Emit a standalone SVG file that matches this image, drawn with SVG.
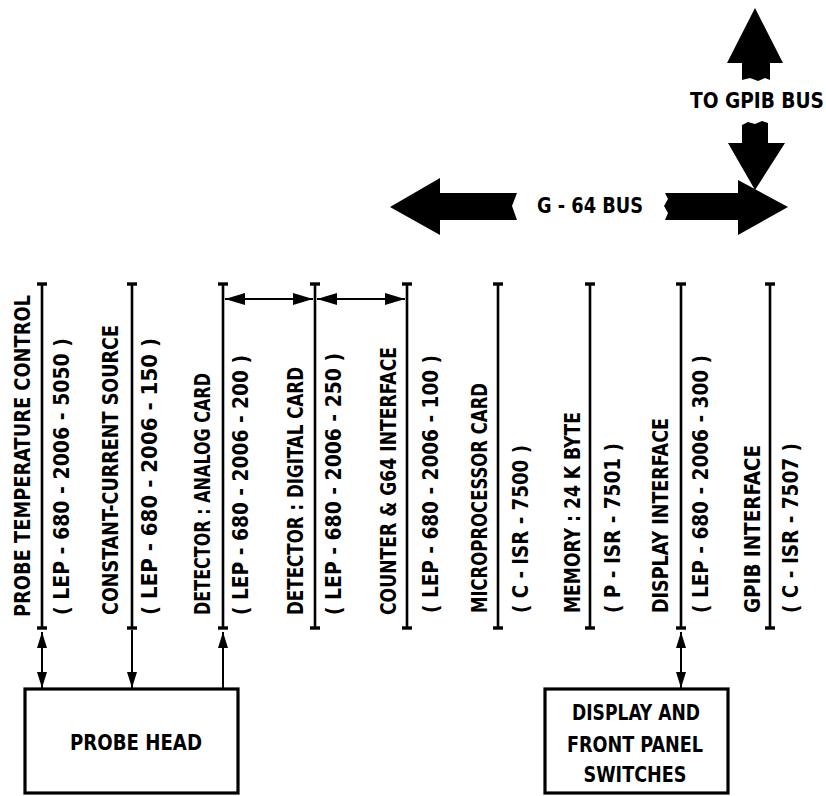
<svg xmlns="http://www.w3.org/2000/svg" width="826" height="796" viewBox="0 0 826 796">
  <style>
    .lbl { font-family: "DejaVu Sans Condensed", "DejaVu Sans", "Liberation Sans", sans-serif; font-weight: bold; font-size: 20.5px; fill: #000; }
    .bar { stroke: #000; stroke-width: 2.6; fill: none; }
    .tick { stroke: #000; stroke-width: 3.4; fill: none; }
    .con { stroke: #000; stroke-width: 2; fill: none; }
    .box { stroke: #000; stroke-width: 3.2; fill: #fff; }
    .bus { fill: #000; stroke: none; }
  </style>
  <defs>
    <marker id="tri" viewBox="0 0 16 10" refX="16" refY="5" markerWidth="16" markerHeight="10" markerUnits="userSpaceOnUse" orient="auto-start-reverse">
      <path d="M0,0 L16,5 L0,10 z" fill="#000"/>
    </marker>
    <marker id="tri-lg" viewBox="0 0 20 12" refX="20" refY="6" markerWidth="20" markerHeight="12" markerUnits="userSpaceOnUse" orient="auto-start-reverse">
      <path d="M0,0 L20,6 L0,12 z" fill="#000"/>
    </marker>
  </defs>
  <rect width="826" height="796" fill="#fff"/>

  <!-- system buses -->
  <g id="bus-gpib">
    <polygon class="bus" points="755,8 783,63 770,63 770,80 765,78 758,81 750,78 742,80 742,63 727,63"/>
    <polygon class="bus" points="742,125 748,122 755,124 762,121 768,123 768,143 785,143 755,190 728,143 742,143"/>
    <text class="lbl" x="690" y="108" textLength="134" lengthAdjust="spacingAndGlyphs">TO GPIB  BUS</text>
  </g>
  <g id="bus-g64">
    <polygon class="bus" points="390,207 440,178 440,193 517,193 512,206 517,220 440,220 440,235"/>
    <polygon class="bus" points="665,193 738,193 738,180 788,207 738,235 738,220 665,220 668,213 664,206 668,199"/>
    <text class="lbl" x="537" y="213" textLength="106" lengthAdjust="spacingAndGlyphs">G - 64 BUS</text>
  </g>

  <!-- cards on the bus: bar, name and part number -->
  <g id="card-probe-temp">
    <line class="bar" x1="42" y1="284" x2="42" y2="628"/>
    <line class="tick" x1="37" y1="284" x2="47" y2="284"/><line class="tick" x1="37" y1="628" x2="47" y2="628"/>
    <text class="lbl" transform="translate(30,617) rotate(-90)" textLength="322" lengthAdjust="spacingAndGlyphs">PROBE TEMPERATURE CONTROL</text>
    <text class="lbl" transform="translate(69,615) rotate(-90)" textLength="277" lengthAdjust="spacingAndGlyphs">( LEP - 680 - 2006 - 5050 )</text>
  </g>
  <g id="card-current-source">
    <line class="bar" x1="132" y1="284" x2="132" y2="628"/>
    <line class="tick" x1="127" y1="284" x2="137" y2="284"/><line class="tick" x1="127" y1="628" x2="137" y2="628"/>
    <text class="lbl" transform="translate(118,615) rotate(-90)" textLength="290" lengthAdjust="spacingAndGlyphs">CONSTANT-CURRENT SOURCE</text>
    <text class="lbl" transform="translate(157,615) rotate(-90)" textLength="277" lengthAdjust="spacingAndGlyphs">( LEP - 680 - 2006 - 150 )</text>
  </g>
  <g id="card-analog">
    <line class="bar" x1="223" y1="284" x2="223" y2="628"/>
    <line class="tick" x1="218" y1="284" x2="228" y2="284"/><line class="tick" x1="218" y1="628" x2="228" y2="628"/>
    <text class="lbl" transform="translate(210,615) rotate(-90)" textLength="242" lengthAdjust="spacingAndGlyphs">DETECTOR : ANALOG CARD</text>
    <text class="lbl" transform="translate(248,615) rotate(-90)" textLength="260" lengthAdjust="spacingAndGlyphs">( LEP - 680 - 2006 - 200 )</text>
  </g>
  <g id="card-digital">
    <line class="bar" x1="315" y1="284" x2="315" y2="628"/>
    <line class="tick" x1="310" y1="284" x2="320" y2="284"/><line class="tick" x1="310" y1="628" x2="320" y2="628"/>
    <text class="lbl" transform="translate(303,615) rotate(-90)" textLength="248" lengthAdjust="spacingAndGlyphs">DETECTOR : DIGITAL CARD</text>
    <text class="lbl" transform="translate(341,615) rotate(-90)" textLength="262" lengthAdjust="spacingAndGlyphs">( LEP - 680 - 2006 - 250 )</text>
  </g>
  <g id="card-counter">
    <line class="bar" x1="407" y1="284" x2="407" y2="628"/>
    <line class="tick" x1="402" y1="284" x2="412" y2="284"/><line class="tick" x1="402" y1="628" x2="412" y2="628"/>
    <text class="lbl" transform="translate(396,615) rotate(-90)" textLength="268" lengthAdjust="spacingAndGlyphs">COUNTER &amp; G64 INTERFACE</text>
    <text class="lbl" transform="translate(438,613) rotate(-90)" textLength="258" lengthAdjust="spacingAndGlyphs">( LEP - 680 - 2006 - 100 )</text>
  </g>
  <g id="card-cpu">
    <line class="bar" x1="498" y1="284" x2="498" y2="628"/>
    <line class="tick" x1="493" y1="284" x2="503" y2="284"/><line class="tick" x1="493" y1="628" x2="503" y2="628"/>
    <text class="lbl" transform="translate(487,613) rotate(-90)" textLength="230" lengthAdjust="spacingAndGlyphs">MICROPROCESSOR CARD</text>
    <text class="lbl" transform="translate(528,613) rotate(-90)" textLength="168" lengthAdjust="spacingAndGlyphs">( C - ISR - 7500 )</text>
  </g>
  <g id="card-memory">
    <line class="bar" x1="590" y1="284" x2="590" y2="628"/>
    <line class="tick" x1="585" y1="284" x2="595" y2="284"/><line class="tick" x1="585" y1="628" x2="595" y2="628"/>
    <text class="lbl" transform="translate(580,613) rotate(-90)" textLength="201" lengthAdjust="spacingAndGlyphs">MEMORY : 24 K  BYTE</text>
    <text class="lbl" transform="translate(620,613) rotate(-90)" textLength="170" lengthAdjust="spacingAndGlyphs">( P - ISR - 7501 )</text>
  </g>
  <g id="card-display">
    <line class="bar" x1="681" y1="284" x2="681" y2="628"/>
    <line class="tick" x1="676" y1="284" x2="686" y2="284"/><line class="tick" x1="676" y1="628" x2="686" y2="628"/>
    <text class="lbl" transform="translate(668,613) rotate(-90)" textLength="195" lengthAdjust="spacingAndGlyphs">DISPLAY INTERFACE</text>
    <text class="lbl" transform="translate(708,613) rotate(-90)" textLength="258" lengthAdjust="spacingAndGlyphs">( LEP - 680 - 2006 - 300 )</text>
  </g>
  <g id="card-gpib">
    <line class="bar" x1="770" y1="284" x2="770" y2="628"/>
    <line class="tick" x1="765" y1="284" x2="775" y2="284"/><line class="tick" x1="765" y1="628" x2="775" y2="628"/>
    <text class="lbl" transform="translate(760,613) rotate(-90)" textLength="168" lengthAdjust="spacingAndGlyphs">GPIB INTERFACE</text>
    <text class="lbl" transform="translate(798,613) rotate(-90)" textLength="170" lengthAdjust="spacingAndGlyphs">( C - ISR - 7507 )</text>
  </g>

  <!-- external units -->
  <g id="probe-head">
    <rect class="box" x="25" y="689" width="213" height="104"/>
    <text class="lbl" x="136" y="750" text-anchor="middle" textLength="132" lengthAdjust="spacingAndGlyphs">PROBE HEAD</text>
  </g>
  <g id="display-panel">
    <rect class="box" x="545" y="689" width="183" height="104"/>
    <text class="lbl" x="636" y="720" text-anchor="middle" textLength="128" lengthAdjust="spacingAndGlyphs">DISPLAY AND</text>
    <text class="lbl" x="635" y="752" text-anchor="middle" textLength="136" lengthAdjust="spacingAndGlyphs">FRONT PANEL</text>
    <text class="lbl" x="635" y="782" text-anchor="middle" textLength="103" lengthAdjust="spacingAndGlyphs">SWITCHES</text>
  </g>

  <!-- connectors -->
  <g id="connectors">
    <line class="con" x1="225" y1="299" x2="313" y2="299" marker-start="url(#tri-lg)" marker-end="url(#tri-lg)"/>
    <line class="con" x1="317" y1="299" x2="405" y2="299" marker-start="url(#tri-lg)" marker-end="url(#tri-lg)"/>
    <line class="con" x1="42" y1="632" x2="42" y2="688" marker-start="url(#tri)" marker-end="url(#tri)"/>
    <line class="con" x1="132" y1="630" x2="132" y2="688" marker-end="url(#tri)"/>
    <line class="con" x1="223" y1="688" x2="223" y2="632" marker-end="url(#tri)"/>
    <line class="con" x1="681" y1="632" x2="681" y2="688" marker-start="url(#tri)" marker-end="url(#tri)"/>
  </g>
</svg>
